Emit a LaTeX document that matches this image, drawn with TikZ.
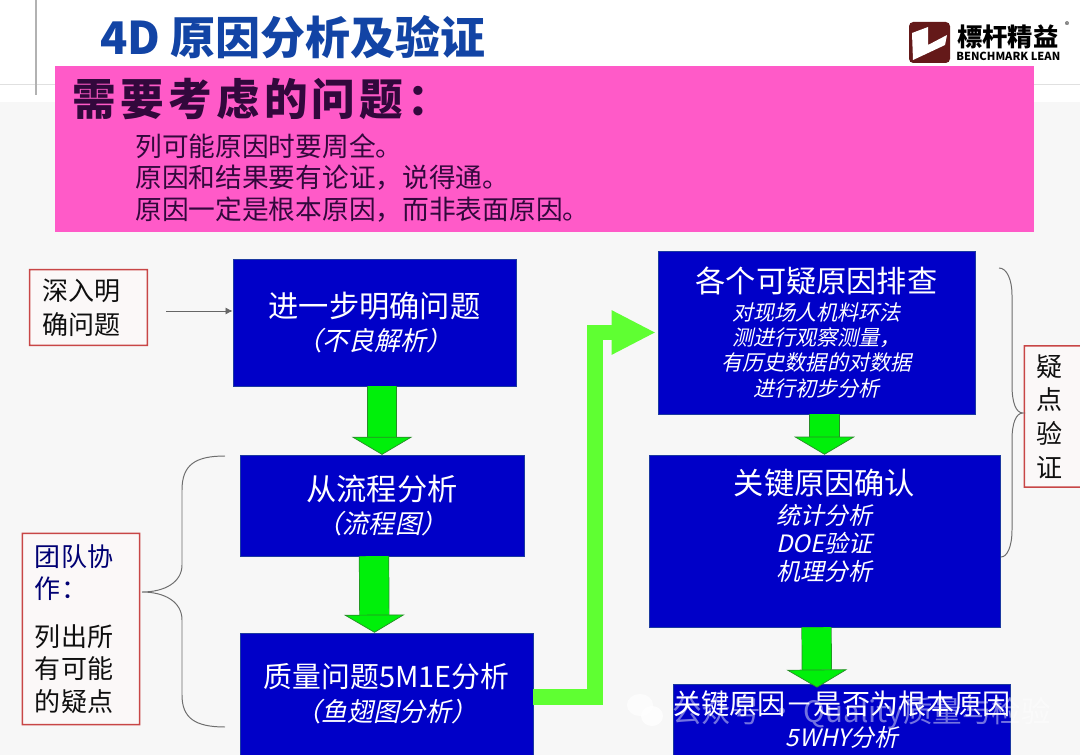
\documentclass[tikz,border=0pt]{standalone}
\usepackage{fontspec}
\setmainfont{Noto Sans CJK SC}
\newfontfamily\slantcjk[FakeSlant=0.22]{Noto Sans CJK SC}
\usetikzlibrary{arrows.meta,positioning,calc}
\definecolor{boxblue}{RGB}{0,0,200}
\definecolor{boxedge}{RGB}{28,58,160}
\definecolor{titleblue}{RGB}{18,68,165}
\definecolor{panelpink}{RGB}{255,90,200}
\definecolor{pinktext}{RGB}{50,8,60}
\definecolor{blockgreen}{RGB}{0,240,10}
\definecolor{blockedge}{RGB}{40,140,40}
\definecolor{limegreen}{RGB}{95,255,50}
\definecolor{noteedge}{RGB}{200,70,70}
\definecolor{notefill}{RGB}{251,248,248}
\definecolor{notetext}{RGB}{15,15,15}
\definecolor{pagegray}{RGB}{247,247,247}
\definecolor{bracegray}{RGB}{110,110,110}
\definecolor{logored}{RGB}{100,25,25}
\newcommand{\subtext}[1]{{\slantcjk\fontsize{18.5}{24}\selectfont #1}}
\newcommand{\smalltext}[1]{{\slantcjk\fontsize{15}{18}\selectfont #1}}
\newcommand{\midtext}[1]{{\slantcjk\fontsize{17}{20}\selectfont #1}}
\newcommand{\noteframe}[1]{\fill[noteedge,even odd rule] (#1.north west) rectangle (#1.south east)
    ($(#1.north west)+(1.5,1.5)$) rectangle ($(#1.south east)+(-1.5,-1.5)$);}
\lineskiplimit=-50pt

\begin{document}
\begin{tikzpicture}[
    x=0.025cm,
    y=-0.025cm,
    box/.style={
        draw=boxedge,
        fill=boxblue,
        text=white,
        inner sep=0pt,
        align=center,
        font=\fontsize{21.5}{24}\selectfont
    },
    tightbox/.style={
        box,
        font=\fontsize{21.5}{18}\selectfont
    },
    notebox/.style={
        fill=notefill,
        text=notetext,
        inner sep=0pt,
        align=left,
        font=\fontsize{18.5}{24}\selectfont
    },
    blockarrow/.style={
        draw=blockedge,
        double=blockgreen,
        double distance=0.72cm,
        line width=0.5pt,
        -{Triangle[width=1.52cm,length=0.45cm,line width=0.5pt,color=blockedge,fill=blockgreen]}
    },
    elbowarrow/.style={
        draw=limegreen,
        line width=0.39cm,
        line join=miter,
        shorten >=0.075cm,
        -{Triangle[width=1.12cm,length=1.08cm,line width=0pt,color=limegreen,fill=limegreen]}
    },
    bracket/.style={draw=bracegray,line width=0.7pt}
]
\useasboundingbox (0,0) rectangle (1080,755);

% page
\fill[white] (0,0) rectangle (1080,755);
\fill[pagegray] (0,102) rectangle (1080,755);
\draw[black!12] (0,84) -- (1080,84);
\draw[black!30,line width=0.8pt] (36,0) -- (36,95);

% header
\node[text=titleblue,anchor=west,inner sep=0pt,font=\fontsize{32}{36}\bfseries\selectfont] (title) at (100,37)
{4D 原因分析及验证};

\fill[logored,rounded corners=3pt] (909,22) rectangle (950,63);
\fill[white] (912,33) -- (928,27) -- (928,45) -- (947,35) -- (945,45) -- (928,53) -- (913,60) -- cycle;
\node[anchor=west,inner sep=0pt,font=\fontsize{18}{22}\bfseries\selectfont] (logotext) at (957,37)
{標杆精益};
\node[anchor=west,inner sep=0pt,font=\fontsize{7.9}{9}\bfseries\selectfont] (logosub) at (956,56)
{BENCHMARK LEAN};
\node[inner sep=0pt,font=\fontsize{6}{7}\selectfont] (logomark) at (1067,25) {®};

% pink panel
\fill[panelpink] (55,66) rectangle (1034,232);
\node[text=pinktext,anchor=west,inner sep=0pt,font=\fontsize{31}{36}\bfseries\selectfont\addfontfeature{LetterSpace=10}] (askhead) at (72,99)
{需要考虑的问题：};
\node[
    text=pinktext,
    anchor=north west,
    inner sep=0pt,
    align=left,
    font=\fontsize{19}{22.4}\selectfont
] (asklist) at (135,133)
{列可能原因时要周全。\\
原因和结果要有论证，说得通。\\
原因一定是根本原因，而非表面原因。};

% left column
\node[box,minimum width=7.08cm,minimum height=3.18cm] (detail) at (374.5,322.5)
{\raisebox{-1pt}{进一步明确问题}\\ \subtext{（不良解析）}};
\node[box,minimum width=7.1cm,minimum height=2.52cm] (flow) at (382,505.5)
{从流程分析\\ \subtext{（流程图）}};
\node[box,minimum width=7.32cm,minimum height=3.05cm,font=\fontsize{20.5}{24}\selectfont] (fishbone) at (386.5,694)
{质量问题5M1E分析\\ \subtext{（鱼翅图分析）}};

% right column
\node[tightbox,minimum width=7.92cm,minimum height=4.08cm] (check) at (816.5,332.5)
{\raisebox{-3.5pt}{各个可疑原因排查}\\[5pt]
\smalltext{对现场人机料环法}\\
\smalltext{测进行观察测量，}\\
\smalltext{有历史数据的对数据}\\
\smalltext{进行初步分析}};
\node[tightbox,minimum width=8.78cm,minimum height=4.3cm] (confirm) at (824.5,541)
{关键原因确认\\[3.7pt]
\midtext{统计分析}\\[2pt]
\midtext{DOE验证}\\[2pt]
\midtext{机理分析}\\[5pt]
\mbox{}};
\node[box,minimum width=8.4cm,minimum height=1.78cm,font=\fontsize{20}{24}\selectfont] (root) at (842,719.5)
{\raisebox{-3pt}{关键原因－是否为根本原因}\\ \raisebox{-2pt}{\midtext{5WHY分析}}};

% side notes
\node[notebox,minimum width=2.97cm,minimum height=1.92cm,text width=2.3cm] (deepen) at (88.5,307.5)
{深入明\\确问题};
\node[notebox,minimum width=2.95cm,minimum height=4.8cm,text width=2.3cm,font=\fontsize{18.5}{23}\selectfont] (team) at (81,629)
{\textcolor{blue!45!black}{团队协}\\
\textcolor{blue!45!black}{作：}\\[11pt]
列出所\\有可能\\的疑点};
\node[notebox,minimum width=1.45cm,minimum height=3.55cm,text width=0.85cm] (suspect) at (1053,416.5)
{疑\\点\\验\\证};
\noteframe{deepen}
\noteframe{team}
\noteframe{suspect}

% arrows
\coordinate (detailstart) at (166,311);
\draw[black!60,line width=0.6pt,-{Latex[length=5pt,width=5pt]}] (detailstart) -- (detailstart -| detail.west);
\draw[blockarrow] (detail.south -| flow.north) -- (flow.north);
\draw[blockarrow] ($(flow.south)+(-8,0)$) -- ($(fishbone.north)+(-12,0)$);
\draw[blockarrow] ($(check.south)+(8,0)$) -- (confirm.north);
\draw[blockarrow] ($(confirm.south)+(-8,0)$) -- ($(root.north)+(-25,4)$);
\coordinate (elbowbend) at (595,500);
\draw[elbowarrow] ($(fishbone.east)+(0,3)$) -| (elbowbend) |- (check.west);

% braces
\coordinate (teamtop) at (225,456);
\coordinate (teamtip) at (142,592);
\coordinate (teambottom) at (225,727);
\draw[bracket] (teamtop) .. controls (195,456) and (182,465) .. (182,490)
    -- (182,565) .. controls (182,582) and (165,592) .. (teamtip)
    .. controls (165,592) and (182,602) .. (182,620)
    -- (182,695) .. controls (182,718) and (195,727) .. (teambottom);
\coordinate (suspecttop) at (999,268);
\coordinate (suspecttip) at (1023,413);
\coordinate (suspectbottom) at (1001,557);
\draw[bracket] (suspecttop) .. controls (1007,268) and (1012,280) .. (1012,295)
    -- (1012,385) .. controls (1012,403) and (1016,413) .. (suspecttip)
    .. controls (1016,413) and (1012,423) .. (1012,440)
    -- (1012,530) .. controls (1012,547) and (1007,557) .. (suspectbottom);

% watermark
\fill[white,opacity=0.75] (640,705) ellipse (13 and 11);
\fill[white,opacity=0.85] (652,716) ellipse (11 and 10);
\node[anchor=west,inner sep=0pt,text=white,text opacity=0.45,font=\fontsize{21}{24}\selectfont] (mark) at (672,713)
{公众号 · Quality质量与检验};
\end{tikzpicture}
\end{document}
